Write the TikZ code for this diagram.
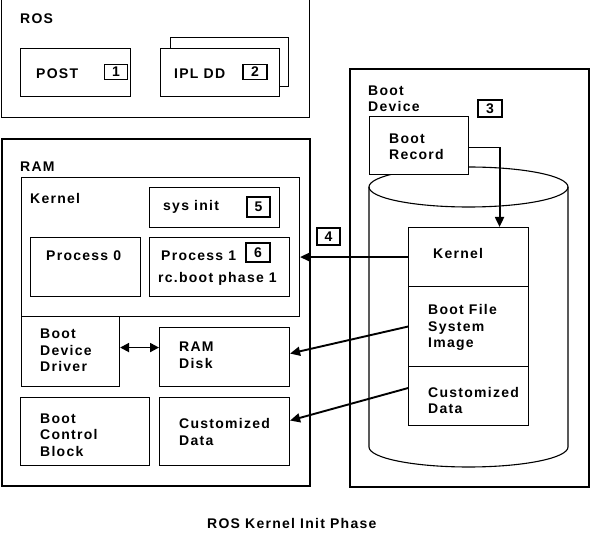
\documentclass[tikz,border=0pt]{standalone}
\usepackage{fontspec}
\setmainfont{Liberation Sans}[LetterSpace=9]
\usetikzlibrary{arrows.meta}

\tikzset{
  lbl/.style={anchor=north west, inner sep=0pt, align=left, font=\bfseries\fontsize{14}{16.5}\selectfont},
  box/.style={draw, line width=1.1pt, fill=white, anchor=north west, inner sep=0pt},
  bigbox/.style={draw, line width=1.8pt, anchor=north west, inner sep=0pt},
  numbox/.style={draw, line width=1.1pt, fill=white, inner sep=0pt, font=\bfseries\fontsize{14}{14}\selectfont},
  flow/.style={line width=1.9pt, -{Triangle[length=10pt,width=9pt]}}
}

\begin{document}
\begin{tikzpicture}[x=1pt,y=-1pt]
\useasboundingbox (0,0) rectangle (590,556);
\clip (0,0) rectangle (590,556);

% ROS
\node[bigbox, line width=1.4pt, minimum width=308pt, minimum height=127pt] (ros) at (1,-10) {};
\node[lbl] (roslbl) at (20,13.5) {ROS};
\node[box, minimum width=110pt, minimum height=48pt] (post) at (20,48) {};
\node[lbl] (posttxt) at (36,68.5) {POST};
\node[numbox, minimum width=23pt, minimum height=15pt] (n1) at (116,71.7) {1};
\node[box, minimum width=118pt, minimum height=49pt] (iplback) at (170,37) {};
\node[box, minimum width=119pt, minimum height=48pt] (ipl) at (160,48) {};
\node[lbl] (ipltxt) at (174,68.5) {IPL DD};
\node[numbox, minimum width=24pt, minimum height=15pt] (n2) at (255,71.7) {2};

% RAM
\node[bigbox, minimum width=308pt, minimum height=347pt] (ram) at (1,138) {};
\node[lbl] (ramlbl) at (20,162) {RAM};
\node[box, minimum width=278pt, minimum height=139pt] (kern) at (21,177) {};
\node[lbl] (kernlbl) at (30,193.5) {Kernel};
\node[box, minimum width=130pt, minimum height=40pt] (sysinit) at (149,187) {};
\node[lbl] (sysinittxt) at (163,200.6) {sys init};
\node[numbox, minimum width=23pt, minimum height=20pt] (n5) at (258.5,207) {5};
\node[box, minimum width=110pt, minimum height=59pt] (proc0) at (30,237) {};
\node[lbl] (proc0txt) at (46,250.7) {Process 0};
\node[box, minimum width=140pt, minimum height=59pt] (proc1) at (149,237) {};
\node[lbl] (proc1txt) at (161,250.5) {Process 1};
\node[lbl] (rctxt) at (158,272.6) {rc.boot phase 1};
\node[numbox, minimum width=24pt, minimum height=19pt] (n6) at (258,252.5) {6};
\node[box, minimum width=98pt, minimum height=70pt] (bdd) at (21,316) {};
\node[lbl] (bddtxt) at (40,329) {Boot\\Device\\Driver};
\node[box, minimum width=130pt, minimum height=59pt] (ramdisk) at (159,327) {};
\node[lbl] (ramdisktxt) at (179,341.7) {RAM\\Disk};
\node[box, minimum width=129pt, minimum height=68pt] (bcb) at (20,397) {};
\node[lbl] (bcbtxt) at (40,413.3) {Boot\\Control\\Block};
\node[box, minimum width=130pt, minimum height=68pt] (cdata) at (159,397) {};
\node[lbl] (cdatatxt) at (179,418.3) {Customized\\Data};

% boot device
\node[bigbox, minimum width=239pt, minimum height=418pt] (bootdev) at (349,68) {};
\node[lbl] (bootdevlbl) at (368,85.5) {Boot\\Device};
\node[numbox, minimum width=24pt, minimum height=17pt] (n3) at (490,108.5) {3};
\draw[line width=1.1pt] (468.5,187) ellipse [x radius=99.5, y radius=20];
\draw[line width=1.1pt] (369,187) -- (369,447) arc[start angle=180, end angle=0, x radius=99.5, y radius=20] -- (568,187);
\node[box, minimum width=99pt, minimum height=58pt] (brec) at (369,116) {};
\node[lbl] (brectxt) at (389,133.3) {Boot\\Record};
\node[box, minimum width=120pt, minimum height=59pt] (bkern) at (408,227) {};
\node[lbl] (bkerntxt) at (433,247.7) {Kernel};
\node[box, minimum width=120pt, minimum height=80pt] (bfs) at (408,286) {};
\node[lbl] (bfstxt) at (428,304.3) {Boot File\\System\\Image};
\node[box, minimum width=120pt, minimum height=59pt] (bcust) at (408,366) {};
\node[lbl] (bcusttxt) at (428,386.7) {Customized\\Data};
\node[numbox, minimum width=23pt, minimum height=17pt] (n4) at (328.5,236.5) {4};

% arrows
\draw[flow] ([yshift=-2pt]brec.east) -| ([xshift=31pt]bkern.north);
\draw[flow] (bkern.west) -- (bkern.west -| kern.east);
\draw[flow] (bfs.west) -- ([yshift=3.5pt]ramdisk.east);
\draw[flow] ([yshift=8pt]bcust.west) -- ([yshift=11pt]cdata.east);
\draw[line width=1.9pt, {Triangle[length=9pt,width=9pt]}-{Triangle[length=9pt,width=9pt]}] ([yshift=4pt]bdd.east) -- ([yshift=4pt]bdd.east -| ramdisk.west);

\node[lbl] (caption) at (207,518.3) {ROS Kernel Init Phase};
\end{tikzpicture}
\end{document}
